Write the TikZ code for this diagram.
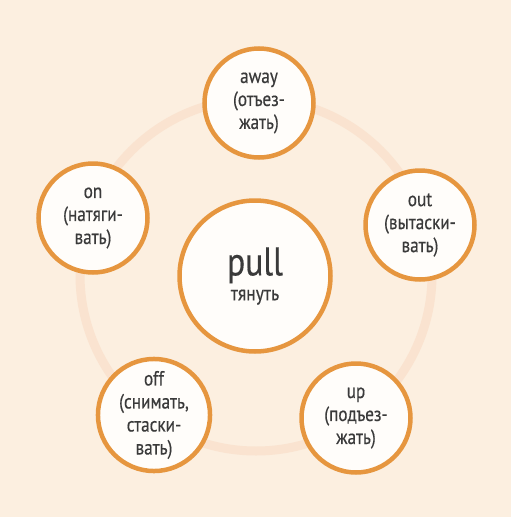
\documentclass[tikz,border=0pt]{standalone}
\usepackage{fontspec}
\setmainfont{PT Sans}[FakeStretch=0.84,FakeBold=0.4]
\definecolor{bgc}{HTML}{FCEFE0}
\definecolor{ringc}{HTML}{FAE3D0}
\definecolor{orng}{HTML}{E6963F}
\definecolor{fillc}{HTML}{FFFDFA}
\definecolor{txt}{HTML}{3A3A3A}
\tikzset{
  bubble/.style={circle, draw=orng, line width=4.5pt, fill=fillc, minimum size=109pt, inner sep=0pt, align=center, text=txt, font=\fontsize{20.5}{23}\selectfont},
  hub/.style={circle, draw=orng, line width=4.5pt, fill=fillc, minimum size=151pt, inner sep=0pt, align=center, text=txt, font=\fontsize{21}{22}\selectfont},
}
\begin{document}
\begin{tikzpicture}[x=1pt,y=-1pt]
\fill[bgc] (0,0) rectangle (511,517);
\useasboundingbox (0,0) rectangle (511,517);
\draw[ringc, line width=9pt] (256,275) circle[radius=176];
\node[hub] (pull) at (255,276) {{\fontsize{40}{40}\selectfont pull}\\[3pt]тянуть};
\node[bubble] (away) at (259,103) {away\\(отъез-\\жать)};
\node[bubble] (out) at (420,225) {out\\(вытаски-\\вать)};
\node[bubble] (on) at (93,218) {on\\(натяги-\\вать)};
\node[bubble] (off) at (154,415) {off\\(снимать,\\стаски-\\вать)};
\node[bubble] (up) at (356,418) {up\\(подъез-\\жать)};
\end{tikzpicture}
\end{document}
